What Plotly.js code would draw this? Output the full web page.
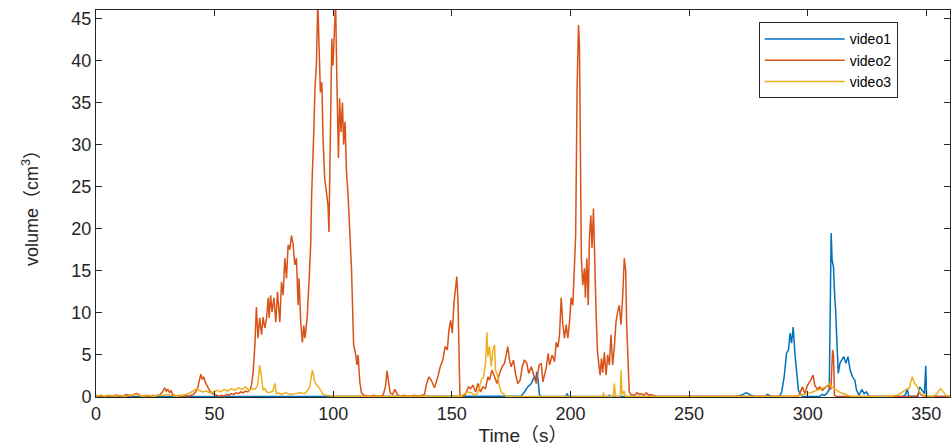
<!DOCTYPE html>
<html>
<head>
<meta charset="utf-8">
<script src="https://cdn.plot.ly/plotly-3.0.1.min.js"></script>
<style>html,body{margin:0;padding:0;background:#fff;}</style>
</head>
<body>
<div id="chart" style="width:951px;height:447px;"></div>
<script>
// ---- data (time in s, volume in cm^3) ----
var t1 = [0,50,100,150,170,178,179.2,180.6,182,183.5,184.3,184.8,185.4,185.8,186.4,186.9,187.5,198,198.6,199.2,216,216.5,217,270,272,273,274,275,276,278,282,283,284,285,288,289,290.1,291.1,291.9,292.6,293.2,293.9,294.6,295.3,296.1,297.1,298,305,306,307,308,309.1,309.5,309.9,310.3,310.9,311.4,311.8,312.4,312.9,313.6,314.4,315.2,316.1,317,317.9,318.9,319.9,320.6,321.7,322.8,323.8,324.8,325.9,340,341.3,342,342.6,346.5,347.2,348.4,349.2,349.8,350.1,360];
var video1 = [0.02,0.02,0.02,0.05,0.05,0.05,0.1,0.6,1.2,1.6,2.0,2.4,2.0,3.0,2.0,0.3,0.05,0.05,0.4,0.05,0.05,0.2,0.05,0.05,0.2,0.4,0.5,0.4,0.2,0.05,0.05,0.3,0.2,0.05,0.1,0.5,2.4,5.2,5.6,7.6,6.4,8.3,5.2,2.8,0.8,0.2,0.05,0.05,0.3,0.2,0.4,0.9,13,19.5,16.3,15.4,11.9,10.3,6,2.8,4,4.4,4.8,4,4.8,3.2,2.4,2,0.8,0.2,0.9,0.4,0.6,0.05,0.05,0.3,1.0,0.1,0.1,1.2,0.8,0.4,3.7,0.1,0.05];

var t2 = [0,1,2,3,4,5,6,7,8,9,10,11,12,13,14,15,16,17,18,19,20,21,22,23,24,25,26,27,28,29,29.6,30.3,31,31.6,32.3,33,34,35,36,37,38,39,40,41,42,43,43.6,44.2,44.8,45.4,46,46.6,47.3,48,49,50,51,52,53,54,55,56,57,58,59,60,61,62,63,64,65,65.6,66.2,66.6,67,67.6,68.3,69,69.8,70.4,71.2,71.9,72.6,73,73.6,74.2,75,75.8,76.5,77.5,78.2,78.9,79.6,80.3,81,81.7,82.4,83.1,83.8,84.5,85.2,85.6,86.3,87,87.6,88.1,89,89.8,90.5,90.9,91.4,91.8,92.3,92.9,93.5,93.9,94.6,95.2,95.7,96.4,97.1,97.8,98.2,98.8,99.4,99.9,100.6,101,101.6,102.2,102.7,103.3,103.9,104.4,105,105.6,106.2,106.9,107.7,108.6,109.5,110,110.5,111.2,111.9,113,115,117,119,121,122,122.7,123.4,124,125,126,127,128,130,132,134,136,137.5,138.5,139.2,140.3,141.3,142.7,144.1,145.1,146.2,147.2,148.1,148.8,149.5,150.2,150.9,151.4,152.1,152.6,153,153.4,154.5,155.4,156.1,157,157.9,158.9,160,161,162.1,163.1,164.2,165.2,165.9,166.9,168,169,170.1,171.2,172.2,172.9,173.6,174.3,175,176,176.8,177.8,178.8,179.7,180.6,181.6,182.4,183.5,184.5,185.6,186.8,187.7,188.4,189.8,190.6,191.2,192.3,193.3,194,194.7,195.4,196.1,196.8,197.5,198.2,198.9,199.6,200.3,201,201.7,202.2,202.8,203.4,203.8,204.2,204.6,205.2,205.9,206.3,206.9,207.5,208,208.6,209.1,209.7,210.2,210.8,211.4,211.9,212.5,213.1,213.6,214.3,215,215.7,216.4,217.1,217.8,218.5,219.2,219.9,220.6,221.3,222,222.7,223.3,223.7,224.3,224.8,225.5,227,228,229,230,231,232,233,234,236,240,250,260,270,280,290,295,296.4,297.8,298.9,299.9,301.3,302.3,303,304.1,305.1,306.2,307.7,308.8,309.8,310.5,310.9,311.3,312,320,330,340,346,347,348,350,360];
var video2 = [0.2,0.1,0.2,0.1,0.1,0.2,0.1,0.1,0.2,0.2,0.1,0.1,0.2,0.3,0.2,0.1,0.3,0.4,0.3,0.1,0.1,0.2,0.1,0.1,0.2,0.1,0.2,0.3,0.6,1.1,0.7,0.9,0.5,0.8,0.3,0.2,0.1,0.2,0.1,0.1,0.2,0.1,0.2,0.3,0.6,1.2,2.0,2.7,2.1,2.4,1.8,1.4,1.0,0.7,0.4,0.3,0.2,0.1,0.2,0.1,0.3,0.2,0.4,0.3,0.5,0.4,0.6,0.5,0.7,0.6,0.9,1.5,2.8,4.5,6.2,10.7,7,9.4,7.4,9.5,8.2,9.4,11.8,9.4,12.1,10.1,11.8,8.9,12.5,8.9,13.7,12.1,16.5,14.1,18.1,17.5,19.2,18.1,15.7,16.5,10.9,14.1,8.9,6.5,8.5,7,9.4,13.7,18.1,24,30,31.5,36.7,39.4,47,42.6,36.2,37.4,30.8,26,24.3,22.8,19.6,34.7,42.6,39.4,44.2,47,36.7,28.4,35.5,31.5,35,30,32.7,26.7,24.3,19.6,15.3,6.2,5,3.8,5,1.8,0.5,0.2,0.1,0.2,0.1,0.2,1.2,3.1,1.6,0.5,0.3,0.9,0.3,0.1,0.2,0.1,0.2,0.1,0.2,0.3,1.4,2.4,2.0,1.1,2.4,3.6,4.4,6,5.6,8,9.1,7.6,11.2,12.7,14.3,11.5,7.1,0.2,0.1,0.2,0.6,1.2,1.0,1.4,0.6,1.6,0.6,1.2,1.0,2.4,2.0,3.2,2.4,1.6,2.8,3.6,4.0,5.2,6.0,4.4,3.6,4.4,2.8,1.6,2.0,3.6,4.4,4.0,2.8,3.6,2.5,1.6,3.8,4.0,1.8,3.5,5.2,3.8,5.0,4.2,6.5,5.9,7.4,11.8,8.6,7,8.6,7,8.9,11.8,10.9,16.5,19.2,36.7,44.2,41.8,26.7,16.5,13.3,15.3,11.8,16.5,10.9,18.9,21.6,17.7,22.4,16,10.1,5.3,4.2,2.6,4.6,2.9,5.3,2.6,5,3.8,7.4,3.8,5.9,8.9,10.1,10.9,8.6,11.8,16.5,15,8.6,4.2,0.6,0.3,0.2,0.5,0.3,0.4,0.2,0.5,0.2,0.3,0.1,0.05,0.05,0.05,0.05,0.1,0.05,0.1,0.2,1.2,0.4,1.4,2,2.6,1.4,0.9,1.2,0.8,1.2,1.4,0.9,5.6,5,0.2,0.1,0.05,0.05,0.05,0.1,0.5,0.2,0.05,0.05];

var t3 = [0,2,4,6,8,10,12,14,16,18,20,22,24,26,28,30,32,34,36,38,39.6,41,42.5,43.5,45,46.5,48,49.5,51,52.5,54,55.5,57,58.5,60,61.5,63,64.5,66,67,68,68.6,69,69.8,70.4,71.2,71.9,73,74.5,75.4,76.1,77,78,80,82,84,86,88,89,90.1,90.7,91.2,91.7,92.2,93.2,94.3,95.7,97,100,105,110,115,120,130,140,150,154,155.4,156.5,158.3,159.5,160.5,161.5,162.4,163.4,164.2,164.8,165.2,165.9,166.6,167.3,168,168.4,169.4,170.1,170.8,171.8,172.9,175,180,190,200,210,213.5,213.9,214.3,218,218.5,219,221,221.3,221.8,222.7,223.2,230,240,260,280,295,298,300,302,304,306,308,309,310,311,312.5,314,316,318,325,335,338.5,340,341.5,342.7,343.5,344.1,345.1,346.2,347.6,349,351,353,354.5,356,357,358.2,360];
var video3 = [0.1,0.2,0.1,0.2,0.1,0.2,0.1,0.2,0.3,0.2,0.1,0.2,0.1,0.2,0.2,0.3,0.2,0.1,0.2,0.3,0.5,0.7,1.0,0.8,0.6,0.7,0.5,0.6,0.8,0.6,0.9,0.7,1.0,0.8,1.1,0.9,1.2,0.8,1.0,0.9,1.3,2.5,3.8,2.3,0.8,1.0,0.6,0.5,0.7,1.6,0.4,0.5,0.3,0.5,0.3,0.4,0.5,0.4,0.7,1.2,2.2,3.2,2.6,1.8,1.4,1.0,0.3,0.2,0.1,0.1,0.1,0.05,0.1,0.05,0.1,0.1,0.1,0.4,0.6,0.5,0.2,0.3,1.0,2.0,2.4,4.0,7.7,4.8,6.0,3.6,5.6,6.2,3.2,2.4,1.2,0.6,0.4,0.1,0.05,0.05,0.05,0.05,0.05,0.05,0.5,0.05,0.05,1.6,0.05,0.1,3.2,0.3,0.7,0.05,0.05,0.05,0.05,0.05,0.05,0.3,0.4,0.6,0.8,1.0,1.3,1.6,1.2,1.0,0.7,0.5,0.3,0.1,0.05,0.05,0.3,0.6,0.9,1.0,1.8,2.4,1.6,1.2,0.4,0.2,0.1,0.1,0.4,1.0,0.7,0.2,0.1];

var seriesNames = ['video1', 'video2', 'video3'];
var seriesColors = ['#0072BD', '#D95319', '#EDB120'];
var xTicks = [0, 50, 100, 150, 200, 250, 300, 350];
var yTicks = [0, 5, 10, 15, 20, 25, 30, 35, 40, 45];

var xs = [t1, t2, t3];
var ys = [video1, video2, video3];
var traces = seriesNames.map(function (n, i) {
  return {
    type: 'scatter', mode: 'lines', name: n,
    x: xs[i], y: ys[i],
    line: {color: seriesColors[i], width: 1.5},
    hoverinfo: 'skip'
  };
});

var axisColor = '#262626';
var font = 'Liberation Sans, Arial, Noto Sans CJK SC, sans-serif';
var layout = {
  width: 951, height: 447,
  margin: {l: 96, r: 1, t: 10, b: 50},
  paper_bgcolor: '#ffffff', plot_bgcolor: '#ffffff',
  showlegend: true,
  font: {family: font, color: axisColor},
  xaxis: {
    range: [0, 360], tickvals: xTicks, ticktext: xTicks.map(String),
    showgrid: false, zeroline: false, showline: true, mirror: 'ticks',
    linecolor: axisColor, linewidth: 1, ticks: 'inside', ticklen: 6,
    tickcolor: axisColor, tickfont: {size: 18, family: font, color: axisColor},
    title: {text: 'Time（s）', font: {size: 19, family: font, color: axisColor}, standoff: 6}
  },
  yaxis: {
    range: [0, 46], tickvals: yTicks, ticktext: yTicks.map(String),
    showgrid: false, zeroline: false, showline: true, mirror: 'ticks',
    linecolor: axisColor, linewidth: 1, ticks: 'inside', ticklen: 6,
    tickcolor: axisColor, tickfont: {size: 18, family: font, color: axisColor},
    title: {text: 'volume（cm<sup>3</sup>）', font: {size: 18, family: font, color: axisColor}, standoff: 28}
  },
  legend: {
    x: 0.776, y: 0.968, xanchor: 'left', yanchor: 'top',
    bgcolor: '#ffffff', bordercolor: axisColor, borderwidth: 1,
    font: {size: 14, family: font, color: '#000'},
    itemwidth: 80, tracegroupgap: 0
  }
};

Plotly.newPlot('chart', traces, layout, {displayModeBar: false, staticPlot: true});
</script>
</body>
</html>
